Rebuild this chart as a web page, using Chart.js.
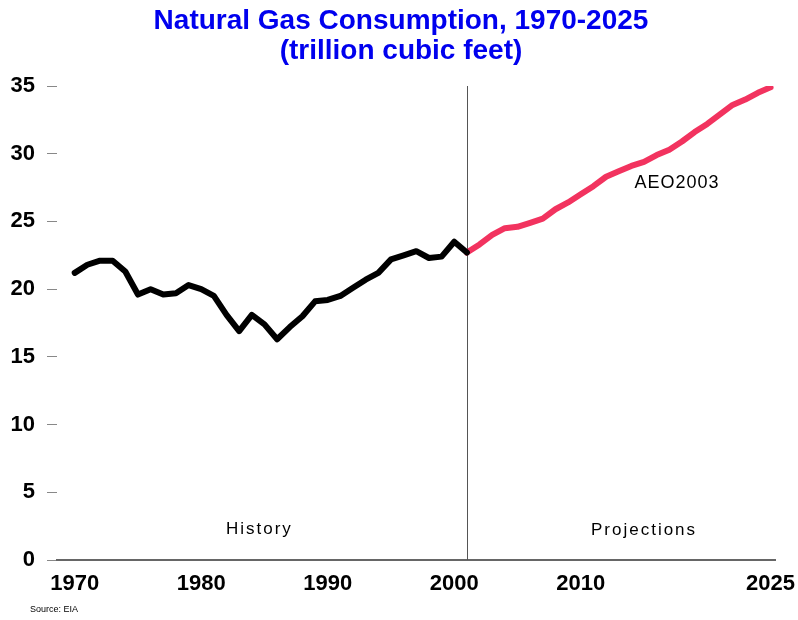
<!DOCTYPE html>
<html>
<head>
<meta charset="utf-8">
<script src="https://cdn.jsdelivr.net/npm/chart.js@4.4.1/dist/chart.umd.min.js"></script>
<style>
  body { margin: 0; background: #fff; }
</style>
</head>
<body>
<canvas id="chart" width="798" height="620"></canvas>
<script>
// history, 1970-2001 (trillion cubic feet)
const historyStart = 1970;
const historyValues = [21.2, 21.8, 22.1, 22.1, 21.3, 19.6, 20.0, 19.6, 19.7, 20.3,
                       20.0, 19.5, 18.1, 16.9, 18.1, 17.4, 16.3, 17.2, 18.0, 19.1,
                       19.2, 19.5, 20.1, 20.7, 21.2, 22.2, 22.5, 22.8, 22.3, 22.4,
                       23.5, 22.7];

// AEO2003 projection, 2001-2025
const projectionStart = 2001;
const projectionValues = [22.7, 23.3, 24.0, 24.5, 24.6, 24.9, 25.2, 25.9, 26.4, 27.0,
                          27.6, 28.3, 28.7, 29.1, 29.4, 29.9, 30.3, 30.9, 31.6, 32.2,
                          32.9, 33.6, 34.0, 34.5, 34.9];

const xTicks = [1970, 1980, 1990, 2000, 2010, 2025];
const yTicks = [0, 5, 10, 15, 20, 25, 30, 35];
const titleLines = ['Natural Gas Consumption, 1970-2025', '(trillion cubic feet)'];

const toPoints = (start, values) => values.map((v, i) => ({ x: start + i, y: v }));

const labelsPlugin = {
    id: 'labels',
    beforeDatasetsDraw(chart) {
        const { ctx, scales: { x, y } } = chart;
        const px = Math.round(x.getPixelForValue(projectionStart)) + 0.5;
        ctx.save();
        ctx.strokeStyle = '#555';
        ctx.lineWidth = 1;
        ctx.beginPath();
        ctx.moveTo(px, y.getPixelForValue(35));
        ctx.lineTo(px, y.getPixelForValue(0));
        ctx.stroke();
        ctx.restore();
    },
    afterDraw(chart) {
        const { ctx, scales: { x, y } } = chart;
        ctx.save();
        ctx.textAlign = 'center';
        ctx.textBaseline = 'middle';
        // title
        ctx.fillStyle = '#0000ee';
        ctx.font = 'bold 28px Arial, "Liberation Sans"';
        ctx.fillText(titleLines[0], 401, 21);
        ctx.fillText(titleLines[1], 401, 51);
        // notes
        ctx.fillStyle = '#000';
        ctx.font = '17px Arial, "Liberation Sans"';
        ctx.letterSpacing = '2px';
        ctx.fillText('History', x.getPixelForValue(1984.6), y.getPixelForValue(2.3));
        ctx.fillText('Projections', x.getPixelForValue(2015.0), y.getPixelForValue(2.2));
        ctx.font = '18px Arial, "Liberation Sans"';
        ctx.letterSpacing = '1px';
        ctx.fillText('AEO2003', x.getPixelForValue(2017.6), y.getPixelForValue(27.8));
        ctx.letterSpacing = '0px';
        ctx.textAlign = 'left';
        ctx.font = '9px Arial, "Liberation Sans"';
        ctx.fillText('Source: EIA', 30, 610);
        ctx.restore();
    }
};

new Chart(document.getElementById('chart'), {
    type: 'line',
    data: {
        datasets: [
            {
                label: 'History',
                data: toPoints(historyStart, historyValues),
                borderColor: '#000',
                borderWidth: 6,
                pointRadius: 0,
                borderJoinStyle: 'round',
                borderCapStyle: 'round'
            },
            {
                label: 'AEO2003',
                data: toPoints(projectionStart, projectionValues),
                borderColor: '#f2335f',
                borderWidth: 6,
                pointRadius: 0,
                borderJoinStyle: 'round',
                borderCapStyle: 'round'
            }
        ]
    },
    options: {
        responsive: false,
        animation: false,
        layout: { padding: { left: 0, right: 0, top: 86, bottom: 0 } },
        scales: {
            x: {
                type: 'linear',
                min: 1968.6,
                max: 2025.4,
                afterBuildTicks: s => { s.ticks = xTicks.map(v => ({ value: v })); },
                afterFit: s => { s.height = 60; },
                ticks: {
                    autoSkip: false,
                    maxRotation: 0,
                    padding: 3,
                    color: '#000',
                    font: { family: 'Arial, "Liberation Sans"', size: 22, weight: 'bold' },
                    callback: v => String(v)
                },
                grid: { display: false },
                border: { display: true, color: '#666', width: 2 }
            },
            y: {
                min: 0,
                max: 35,
                afterBuildTicks: s => { s.ticks = yTicks.map(v => ({ value: v })); },
                afterFit: s => { s.width = 57; },
                ticks: {
                    padding: 12,
                    color: '#000',
                    font: { family: 'Arial, "Liberation Sans"', size: 22, weight: 'bold' }
                },
                grid: { drawOnChartArea: false, drawTicks: true, tickLength: 10, color: '#888' },
                border: { display: false }
            }
        },
        plugins: {
            legend: { display: false },
            tooltip: { enabled: false },
            title: { display: false }
        }
    },
    plugins: [labelsPlugin]
});
</script>
</body>
</html>
